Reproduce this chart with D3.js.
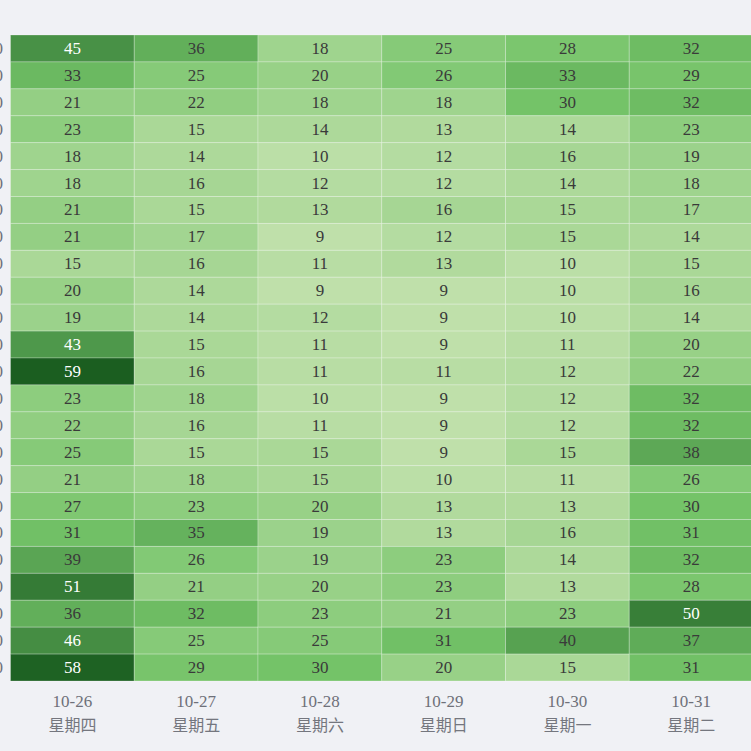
<!DOCTYPE html>
<html>
<head>
<meta charset="utf-8">
<script src="https://cdn.jsdelivr.net/npm/d3@7"></script>
<style>
  html, body { margin: 0; padding: 0; background: #f0f1f5; overflow: hidden; }
  svg { display: block; font-family: "Liberation Serif", serif; }
</style>
</head>
<body>
<script>
var days = ["10-26", "10-27", "10-28", "10-29", "10-30", "10-31"];
var weekdays = ["星期四", "星期五", "星期六", "星期日", "星期一", "星期二"];
var hours = ["00:00","01:00","02:00","03:00","04:00","05:00","06:00","07:00",
             "08:00","09:00","10:00","11:00","12:00","13:00","14:00","15:00",
             "16:00","17:00","18:00","19:00","20:00","21:00","22:00","23:00"];

// one array per day, top row first
var d1026 = [45,33,21,23,18,18,21,21,15,20,19,43,59,23,22,25,21,27,31,39,51,36,46,58];
var d1027 = [36,25,22,15,14,16,15,17,16,14,14,15,16,18,16,15,18,23,35,26,21,32,25,29];
var d1028 = [18,20,18,14,10,12,13,9,11,9,12,11,11,10,11,15,15,20,19,19,20,23,25,30];
var d1029 = [25,26,18,13,12,12,16,12,13,9,9,9,11,9,9,9,10,13,13,23,23,21,31,20];
var d1030 = [28,33,30,14,16,14,15,15,10,10,10,11,12,12,12,15,11,13,16,14,13,23,40,15];
var d1031 = [32,29,32,23,19,18,17,14,15,16,14,20,22,32,32,38,26,30,31,32,28,50,37,31];
var series = [d1026, d1027, d1028, d1029, d1030, d1031];

var W = 751, H = 751;
var padLeft = 10.5, padRight = 753, padTop = 35, padBottom = 681;

var cells = [];
series.forEach(function(vals, i) {
  vals.forEach(function(v, j) {
    cells.push({day: days[i], hour: hours[j], value: v});
  });
});

var svg = d3.select("body").append("svg")
  .attr("width", W)
  .attr("height", H);

var x = d3.scaleBand().domain(days).range([padLeft, padRight]);
var y = d3.scaleBand().domain(hours).range([padTop, padBottom]);

var color = d3.scaleLinear()
  .domain([9, 30, 45, 59])
  .range(["#bfe0aa", "#74c368", "#489146", "#1b5e20"]);

var g = svg.append("g");

g.selectAll("rect")
    .data(cells)
  .enter().append("rect")
    .attr("x", function(d) { return x(d.day); })
    .attr("y", function(d) { return y(d.hour); })
    .attr("width", x.bandwidth())
    .attr("height", y.bandwidth())
    .style("fill", function(d) { return color(d.value); })
    .style("stroke", "rgba(255,255,255,0.25)")
    .style("stroke-width", 1);

g.selectAll("text.val")
    .data(cells)
  .enter().append("text")
    .attr("class", "val")
    .attr("x", function(d) { return x(d.day) + x.bandwidth() / 2; })
    .attr("y", function(d) { return y(d.hour) + y.bandwidth() / 2; })
    .attr("text-anchor", "middle")
    .attr("dominant-baseline", "central")
    .style("font-size", "17px")
    .style("fill", function(d) { return d.value > 40 ? "#ffffff" : "#3a3a3a"; })
    .text(function(d) { return d.value; });

// y labels (mostly off-screen on the left, as in the original)
svg.selectAll("text.ylab")
    .data(hours)
  .enter().append("text")
    .attr("class", "ylab")
    .attr("x", 3)
    .attr("y", function(d) { return y(d) + y.bandwidth() / 2; })
    .attr("text-anchor", "end")
    .attr("dominant-baseline", "central")
    .style("font-size", "17px")
    .style("fill", "#6e7079")
    .text(function(d) { return d; });

// x labels, two lines
var xl = svg.selectAll("g.xlab")
    .data(days)
  .enter().append("g")
    .attr("class", "xlab")
    .attr("transform", function(d) { return "translate(" + (x(d) + x.bandwidth() / 2) + ",0)"; });
xl.append("text")
    .attr("y", 707)
    .attr("text-anchor", "middle")
    .style("font-size", "17px")
    .style("fill", "#6e7079")
    .text(function(d) { return d; });
xl.append("text")
    .attr("y", 731)
    .attr("text-anchor", "middle")
    .style("font-size", "16px")
    .style("font-family", "'Noto Sans CJK SC', sans-serif")
    .style("fill", "#74767e")
    .text(function(d, i) { return weekdays[i]; });
</script>
</body>
</html>
